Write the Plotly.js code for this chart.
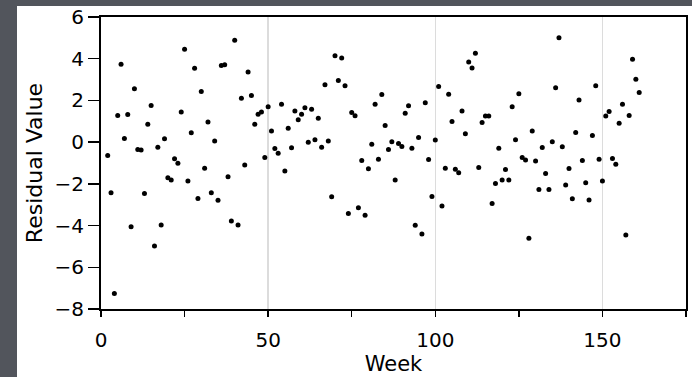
<!DOCTYPE html>
<html>
<head>
<meta charset="utf-8">
<script src="https://cdn.plot.ly/plotly-3.0.1.min.js"></script>
<style>
  html, body { margin: 0; padding: 0; width: 692px; height: 377px; overflow: hidden;
    background: #52555c; }
  #card { position: absolute; left: 17px; top: 6px; width: 675px; height: 371px; background: #fff; }
  #chart { position: absolute; left: 0; top: 0; width: 692px; height: 377px; }
</style>
</head>
<body>
<div id="card"></div>
<div id="chart"></div>
<script>
// Week numbers (2..161) and residual values
const weeks = [];
for (let w = 2; w <= 161; w++) weeks.push(w);

const residuals = [
  -0.64, -2.43, -7.26, 1.28, 3.73, 0.18, 1.33, -4.06, 2.56, -0.35,
  -0.38, -2.46, 0.86, 1.76, -4.98, -0.24, -3.97, 0.16, -1.71, -1.82,
  -0.80, -1.01, 1.44, 4.45, -1.86, 0.45, 3.54, -2.70, 2.43, -1.25,
  0.96, -2.43, 0.05, -2.78, 3.68, 3.71, -1.66, -3.78, 4.88, -3.97,
  2.11, -1.10, 3.36, 2.24, 0.86, 1.34, 1.44, -0.74, 1.70, 0.53,
  -0.30, -0.53, 1.82, -1.38, 0.67, -0.27, 1.49, 1.07, 1.34, 1.65,
  0.00, 1.58, 0.11, 1.15, -0.24, 2.75, 0.05, -2.62, 4.14, 2.96,
  4.03, 2.70, -3.42, 1.42, 1.26, -3.14, -0.88, -3.50, -1.28, -0.10,
  1.82, -0.82, 2.29, 0.80, -0.35, 0.02, -1.81, -0.06, -0.21, 1.38,
  1.74, -0.29, -3.98, 0.22, -4.40, 1.89, -0.83, -2.61, 0.10, 2.67,
  -3.06, -1.25, 2.30, 0.99, -1.30, -1.47, 1.49, 0.40, 3.84, 3.55,
  4.26, -1.22, 0.94, 1.25, 1.25, -2.94, -1.98, -0.29, -1.82, -1.31,
  -1.82, 1.70, 0.11, 2.32, -0.74, -0.86, -4.61, 0.53, -0.91, -2.27,
  -0.26, -1.50, -2.27, 0.02, 2.61, 5.01, -0.22, -2.05, -1.26, -2.72,
  0.46, 2.02, -0.88, -1.95, -2.77, 0.32, 2.70, -0.82, -1.86, 1.25,
  1.47, -0.78, -1.06, 0.90, 1.82, -4.45, 1.28, 3.97, 3.01, 2.38
];

const xTickVals = [0, 50, 100, 150];
const xTickText = ['0', '50', '100', '150'];
const yTickVals = [-8, -6, -4, -2, 0, 2, 4, 6];
const yTickText = ['\u22128', '\u22126', '\u22124', '\u22122', '0', '2', '4', '6'];

const fontFam = 'DejaVu Sans, sans-serif';

const trace = {
  x: weeks,
  y: residuals,
  type: 'scatter',
  mode: 'markers',
  marker: { color: '#000', size: 5 },
  hoverinfo: 'x+y',
  cliponaxis: false
};

const layout = {
  width: 692, height: 377,
  margin: { l: 101, r: 6, t: 17, b: 68 },
  paper_bgcolor: 'rgba(0,0,0,0)',
  plot_bgcolor: '#ffffff',
  showlegend: false,
  font: { family: fontFam, color: '#000', size: 20 },
  xaxis: {
    range: [0, 175],
    tickmode: 'array', tickvals: xTickVals, ticktext: xTickText,
    ticks: 'outside', ticklen: 6, tickwidth: 1.5, tickcolor: '#000',
    minor: { dtick: 25, tick0: 0, ticks: 'outside', ticklen: 6, tickwidth: 1.5, tickcolor: '#000', showgrid: false },
    showgrid: true, gridcolor: '#dcdcdc', gridwidth: 1.5,
    showline: true, linecolor: '#000', linewidth: 2, mirror: true,
    zeroline: false,
    ticklabelstandoff: 6,
    tickfont: { size: 20 },
    title: { text: 'Week', font: { size: 21 }, standoff: 2 }
  },
  yaxis: {
    range: [-8, 6],
    tickmode: 'array', tickvals: yTickVals, ticktext: yTickText,
    ticks: 'outside', ticklen: 11, tickwidth: 1.5, tickcolor: '#000',
    showgrid: false,
    showline: true, linecolor: '#000', linewidth: 2, mirror: true,
    zeroline: false,
    ticklabeloverflow: 'allow',
    tickfont: { size: 20 },
    title: { text: 'Residual Value', font: { size: 22 }, standoff: 6 }
  }
};

Plotly.newPlot('chart', [trace], layout, { displayModeBar: false, staticPlot: true });
</script>
</body>
</html>
